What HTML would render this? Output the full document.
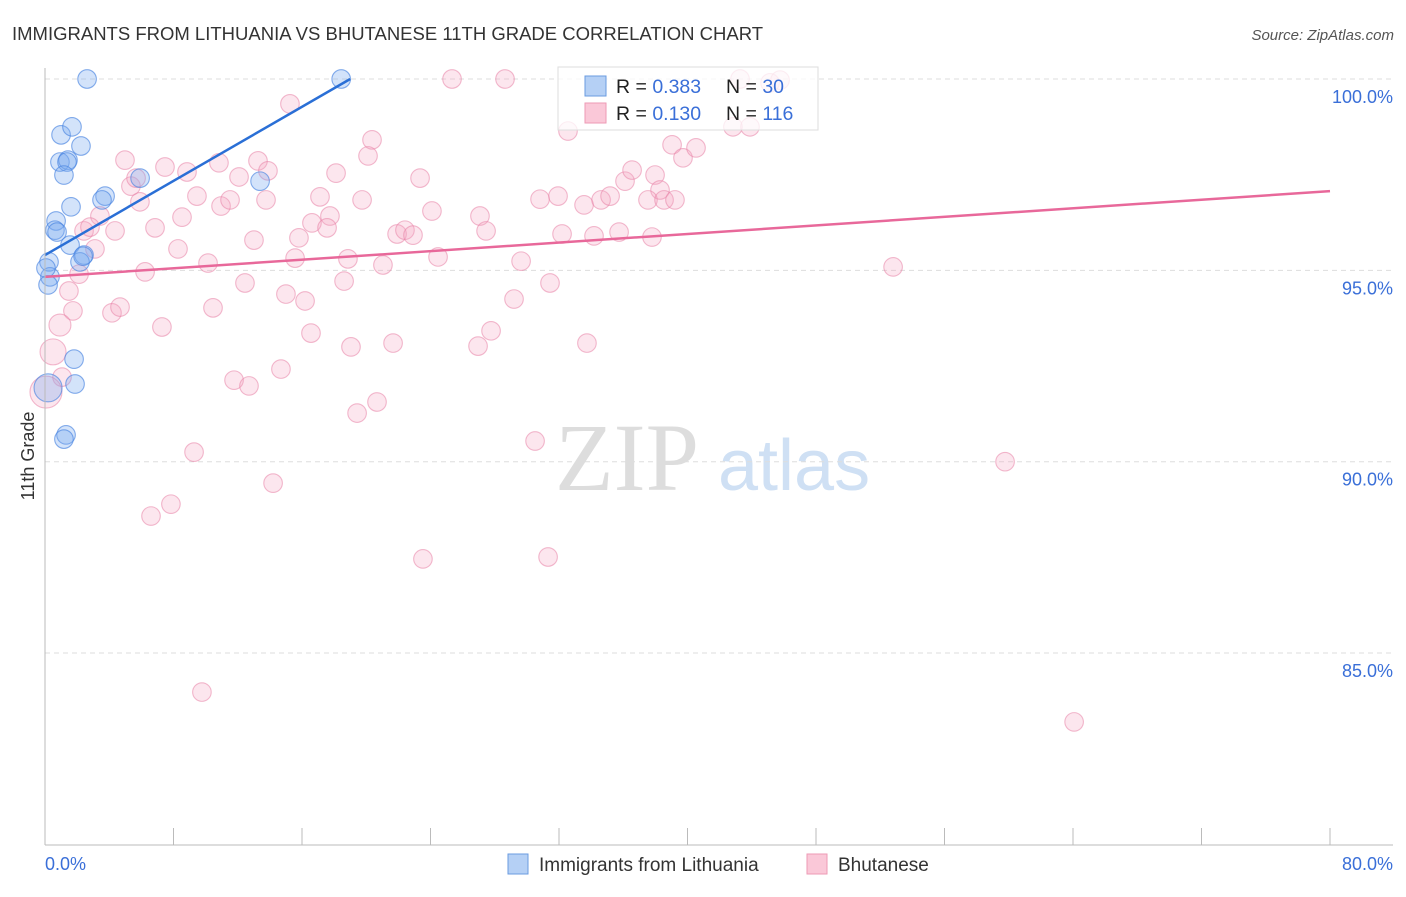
<!DOCTYPE html>
<html><head><meta charset="utf-8"><style>
body{margin:0;background:#fff;font-family:"Liberation Sans",sans-serif}
</style></head><body>
<svg width="1406" height="892" xmlns="http://www.w3.org/2000/svg" id="svg">
<text x="12" y="40" font-size="18.5" fill="#333">IMMIGRANTS FROM LITHUANIA VS BHUTANESE 11TH GRADE CORRELATION CHART</text>
<text x="1394" y="40" font-size="15" fill="#555" font-style="italic" text-anchor="end">Source: ZipAtlas.com</text>
<text x="555" y="490" font-size="96" fill="#ddd" font-family="Liberation Serif">ZIP</text>
<text x="718" y="490" font-size="72" fill="#cfe0f4">atlas</text>
<text transform="translate(34,456) rotate(-90)" font-size="18" fill="#333" text-anchor="middle">11th Grade</text>
<g id="grid"></g><g id="pink"></g><g id="blue"></g><g id="lines"></g>
<line x1="45" y1="68" x2="45" y2="845" stroke="#bbb"/>
<line x1="45" y1="845" x2="1393" y2="845" stroke="#bbb"/>
<text x="45" y="870" font-size="18" fill="#3a6fd8">0.0%</text>
<text x="1393" y="870" font-size="18" fill="#3a6fd8" text-anchor="end">80.0%</text>
<g>
<rect x="558" y="67" width="260" height="63" fill="rgba(255,255,255,0.75)" stroke="#ddd"/>
<rect x="585" y="76" width="21" height="20" fill="#b5d0f5" stroke="#6a9be0"/>
<rect x="585" y="103" width="21" height="20" fill="#fac8d8" stroke="#ee9ab5"/>
<text x="616" y="93" font-size="19.5" fill="#222">R = <tspan fill="#3a6fd8">0.383</tspan></text>
<text x="726" y="93" font-size="19.5" fill="#222">N = <tspan fill="#3a6fd8"> 30</tspan></text>
<text x="616" y="120" font-size="19.5" fill="#222">R = <tspan fill="#3a6fd8"> 0.130</tspan></text>
<text x="726" y="120" font-size="19.5" fill="#222">N = <tspan fill="#3a6fd8">116</tspan></text>
</g>
<g>
<rect x="508" y="854" width="20" height="20" fill="#b5d0f5" stroke="#6a9be0"/>
<text x="539" y="871" font-size="19" fill="#333">Immigrants from Lithuania</text>
<rect x="807" y="854" width="20" height="20" fill="#fac8d8" stroke="#ee9ab5"/>
<text x="838" y="871" font-size="19" fill="#333">Bhutanese</text>
</g>
</svg>
<script>
const yTicks=[100,95,90,85];
const yTickLabels=["100.0%","95.0%","90.0%","85.0%"];
const xTicks=[0,8,16,24,32,40,48,56,64,72,80];
const blueX=[2.62,18.44,1.00,1.68,2.24,0.93,1.43,1.37,1.18,3.74,3.55,5.92,13.39,1.62,0.69,0.62,0.75,1.56,2.43,2.18,0.25,0.31,0.19,1.81,1.87,1.31,1.18,0.19,2.37,0.06];
const blueY=[100,100,98.54,98.75,98.25,97.83,97.88,97.83,97.49,96.94,96.84,97.41,97.33,96.66,96.29,96.05,96.00,95.66,95.40,95.22,95.22,94.83,94.62,92.68,92.03,90.70,90.59,91.93,95.37,95.06];
const pinkX=[15.25,25.34,28.64,43.27,45.14,45.76,32.56,42.83,43.89,20.36,20.11,4.98,7.47,8.84,10.83,13.26,13.88,12.08,18.12,23.35,5.35,5.67,9.46,5.91,4.36,3.42,2.43,2.80,8.53,6.85,10.96,11.52,13.76,13.01,17.12,19.74,16.62,17.74,17.56,15.81,18.86,21.04,15.57,10.15,8.28,3.11,6.23,2.12,1.49,4.17,4.67,1.74,0.93,0.50,1.06,0.06,7.28,10.46,12.45,15.00,16.19,18.62,16.56,19.05,21.67,11.77,12.70,14.69,19.43,20.67,9.28,7.84,6.60,14.20,9.77,23.53,31.32,30.51,26.96,27.77,29.20,31.44,33.74,29.64,27.08,27.46,24.09,21.92,22.41,22.91,24.47,30.82,31.94,32.19,34.18,33.56,34.62,35.18,35.74,36.11,36.55,37.98,38.29,37.54,38.54,39.22,37.79,39.04,39.72,40.53,52.80,59.77,64.07];
const pinkY=[99.35,100,100,100,99.90,99.97,98.64,98.75,98.75,98.41,97.99,97.88,97.70,97.57,97.81,97.86,97.60,97.44,97.54,97.41,97.20,97.41,96.94,96.79,96.03,96.42,96.03,96.13,96.39,96.11,96.68,96.84,96.84,95.79,96.92,96.84,96.24,96.42,96.11,95.85,95.30,95.14,95.32,95.19,95.56,95.56,94.96,94.90,94.46,93.89,94.04,93.94,93.57,92.87,92.21,91.82,93.52,94.02,94.67,94.38,94.20,94.72,93.36,93.00,93.10,92.13,91.98,92.42,91.27,91.56,90.25,88.89,88.58,89.44,83.98,87.46,87.51,90.54,93.02,93.42,94.25,94.67,93.10,95.24,96.42,96.03,96.55,95.95,96.05,95.92,95.35,96.86,96.94,95.95,95.90,96.71,96.84,96.94,96.00,97.33,97.62,97.49,97.10,96.84,96.84,96.84,95.87,98.28,97.94,98.20,95.09,90.00,83.20];
const pinkBig={52:11,53:13,55:16};
const blueBig={27:14};
const blueTrend=[0,95.4,19,100];
const pinkTrend=[0,94.83,80,97.07];
const X=v=>45+v/80*1285, Y=v=>79+(100-v)*38.27;
const NS="http://www.w3.org/2000/svg";
function mk(t,a,p){const e=document.createElementNS(NS,t);for(const k in a)e.setAttribute(k,a[k]);p.appendChild(e);return e;}
const grid=document.getElementById('grid');
yTicks.forEach((t,i)=>{
 const l=mk('line',{x1:45,x2:1393,y1:Y(t),y2:Y(t),stroke:'#ddd','stroke-dasharray':'5,4'},grid);
 
 
 const tx=mk('text',{x:1393,y:Y(t)+24,'font-size':18,fill:'#3a6fd8','text-anchor':'end'},grid);
 tx.textContent=yTickLabels[i];
 
 
});
xTicks.forEach(t=>{
 const l=mk('line',{x1:X(t),x2:X(t),y1:828,y2:845,stroke:'#bbb'},grid);
 
 
});
const pg=document.getElementById('pink');
pinkX.forEach((x,i)=>{
 const c=mk('circle',{cx:X(x),cy:Y(pinkY[i]),r:pinkBig[i]||9.3,fill:'rgba(245,165,195,0.28)',stroke:'rgba(232,130,165,0.55)','stroke-width':1.1},pg);
 
 
});
const bg=document.getElementById('blue');
blueX.forEach((x,i)=>{
 const c=mk('circle',{cx:X(x),cy:Y(blueY[i]),r:blueBig[i]||9.3,fill:'rgba(120,170,240,0.33)',stroke:'rgba(70,130,225,0.65)','stroke-width':1.1},bg);
 
 
});
const lg=document.getElementById('lines');
const bl=mk('line',{x1:X(blueTrend[0]),y1:Y(blueTrend[1]),x2:X(blueTrend[2]),y2:Y(blueTrend[3]),stroke:'#2a6fd6','stroke-width':2.5},lg);


const pl=mk('line',{x1:X(pinkTrend[0]),y1:Y(pinkTrend[1]),x2:X(pinkTrend[2]),y2:Y(pinkTrend[3]),stroke:'#e8689a','stroke-width':2.5},lg);


</script>
</body></html>
